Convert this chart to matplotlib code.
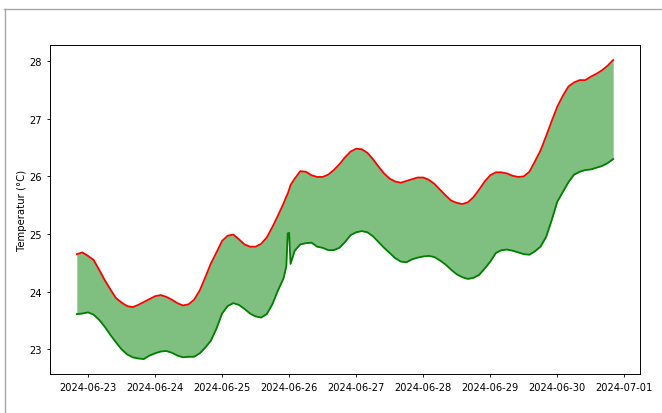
import numpy as np
import pandas as pd
import matplotlib
matplotlib.use("Agg")
import matplotlib.pyplot as plt
import matplotlib.dates as mdates
from matplotlib.lines import Line2D

# hours after 2024-06-22 20:00
hours = [0, 2, 4, 6, 8, 10, 12, 14, 16, 18, 20, 22, 24, 26, 28, 30, 32, 34, 36, 38,
         40, 42, 44, 46, 48, 50, 52, 54, 56, 58, 60, 62, 64, 66, 68, 70, 72, 74, 75,
         75.5, 76, 76.5, 78, 80, 82, 84, 86, 88, 90, 92, 94, 96, 98, 100, 102, 104,
         106, 108, 110, 112, 114, 116, 118, 120, 122, 124, 126, 128, 130, 132, 134,
         136, 138, 140, 142, 144, 146, 148, 150, 152, 154, 156, 158, 160, 162, 164,
         166, 168, 170, 172, 174, 176, 178, 180, 182, 184, 186, 188, 190, 192]

temp_max = [24.65, 24.68, 24.62, 24.55, 24.38, 24.20, 24.04, 23.89, 23.81, 23.75,
            23.73, 23.77, 23.82, 23.87, 23.92, 23.94, 23.91, 23.86, 23.80, 23.76,
            23.78, 23.86, 24.02, 24.25, 24.49, 24.68, 24.88, 24.97, 24.99, 24.91,
            24.82, 24.78, 24.78, 24.83, 24.94, 25.12, 25.32, 25.53, 25.65,
            25.70, 25.77, 25.85, 25.96, 26.09, 26.08, 26.02, 25.99, 25.99, 26.03,
            26.11, 26.21, 26.33, 26.43, 26.48, 26.47, 26.41, 26.30, 26.17, 26.05,
            25.96, 25.91, 25.89, 25.92, 25.95, 25.98, 25.98, 25.94, 25.87, 25.77,
            25.67, 25.58, 25.54, 25.52, 25.55, 25.64, 25.77, 25.91, 26.02, 26.07,
            26.07, 26.05, 26.01, 25.99, 26.00, 26.08, 26.26, 26.45, 26.70, 26.96,
            27.21, 27.40, 27.56, 27.63, 27.67, 27.67, 27.73, 27.78, 27.84, 27.92,
            28.02]

temp_min = [23.61, 23.62, 23.64, 23.60, 23.51, 23.39, 23.25, 23.12, 23.00, 22.91,
            22.86, 22.84, 22.83, 22.89, 22.93, 22.96, 22.97, 22.94, 22.89, 22.86,
            22.87, 22.87, 22.93, 23.03, 23.15, 23.36, 23.62, 23.75, 23.80, 23.77,
            23.70, 23.62, 23.57, 23.55, 23.61, 23.78, 24.02, 24.23, 24.44,
            25.01, 25.02, 24.48, 24.71, 24.82, 24.84, 24.85, 24.78, 24.76, 24.72,
            24.72, 24.76, 24.86, 24.98, 25.03, 25.05, 25.03, 24.96, 24.86, 24.76,
            24.67, 24.58, 24.52, 24.51, 24.56, 24.59, 24.61, 24.62, 24.60, 24.54,
            24.47, 24.38, 24.30, 24.25, 24.22, 24.24, 24.29, 24.40, 24.52, 24.67,
            24.72, 24.73, 24.71, 24.68, 24.65, 24.64, 24.70, 24.78, 24.95, 25.24,
            25.56, 25.73, 25.90, 26.03, 26.08, 26.11, 26.12, 26.15, 26.18, 26.23,
            26.30]

start = pd.Timestamp("2024-06-22 20:00")
times = [start + pd.Timedelta(hours=h) for h in hours]

fig = plt.figure(figsize=(6.62, 4.14), dpi=100)
ax = fig.add_axes([50/662, 1-375/414, 590/662, 329/414])

ax.plot(times, temp_max, color="red", linewidth=1.3)
ax.plot(times, temp_min, color="green", linewidth=1.3)
ax.fill_between(times, temp_min, temp_max, color="green", alpha=0.5, linewidth=0)

ax.xaxis.set_major_locator(mdates.DayLocator())
ax.xaxis.set_major_formatter(mdates.DateFormatter("%Y-%m-%d"))
ax.set_ylabel("Temperatur (°C)", fontsize=7.3, labelpad=1.5)
ax.tick_params(labelsize=7.1, length=2.5, width=0.6)
for s in ax.spines.values():
    s.set_linewidth(0.7)

# screenshot frame lines
fig.add_artist(Line2D([4/662, 1], [1-9.5/414, 1-9.5/414], transform=fig.transFigure,
                      color="#a8a8a8", linewidth=1))
fig.add_artist(Line2D([4.5/662, 4.5/662], [0, 1-9.5/414], transform=fig.transFigure,
                      color="#a8a8a8", linewidth=1))

fig.savefig("out.png", dpi=100)
